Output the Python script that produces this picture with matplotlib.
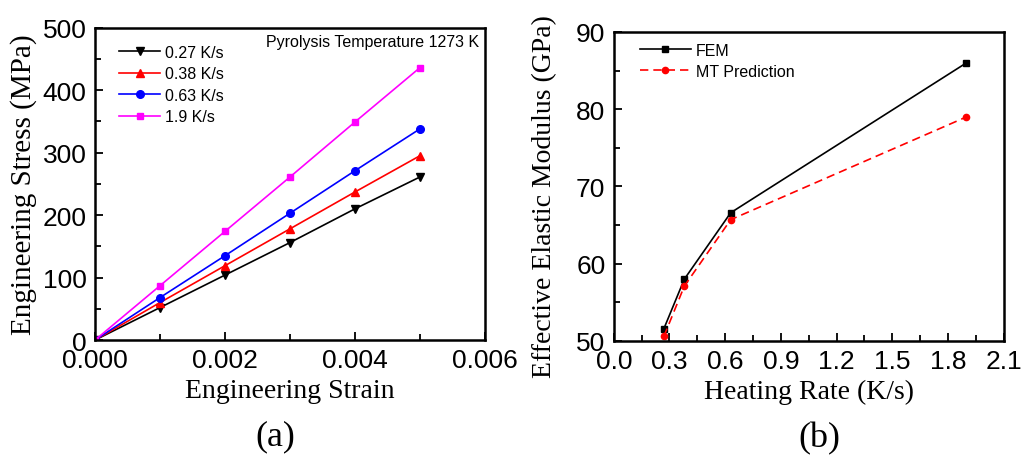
import numpy as np
import matplotlib.pyplot as plt
from matplotlib.ticker import MultipleLocator

# panel (a) data
strain = [0.0, 0.001, 0.002, 0.003, 0.004, 0.005]
stress_027 = [0, 52, 104, 156, 210, 261]
stress_038 = [0, 60, 119, 178, 237, 295]
stress_063 = [0, 68, 135, 203, 271, 338]
stress_19 = [0, 87, 174, 261, 349, 436]

# panel (b) data
rate = [0.27, 0.38, 0.63, 1.9]
fem = [51.6, 58.0, 66.6, 86.0]
mt = [50.6, 57.1, 65.7, 79.0]

sans = ['Liberation Sans', 'DejaVu Sans']
narrow = ['Liberation Sans Narrow', 'Liberation Sans', 'DejaVu Sans']
serif = ['Liberation Serif', 'DejaVu Serif']

fig = plt.figure(figsize=(10.23, 4.64), dpi=100)
ax1 = fig.add_axes([0.0929, 0.265, 0.381, 0.673])
ax2 = fig.add_axes([0.600, 0.263, 0.381, 0.666])

for ax in (ax1, ax2):
    for sp in ax.spines.values():
        sp.set_linewidth(1.8)
    ax.tick_params(direction='in', which='both', width=1.3, labelsize=19, pad=6)
    ax.tick_params(which='major', length=6)
    ax.tick_params(which='minor', length=4)

# (a)
ax1.plot(strain, stress_027, '-v', color='black', lw=1.2, ms=5.5, label='0.27 K/s')
ax1.plot(strain, stress_038, '-^', color='red', lw=1.2, ms=5.5, label='0.38 K/s')
ax1.plot(strain, stress_063, '-o', color='blue', lw=1.2, ms=5.5, label='0.63 K/s')
ax1.plot(strain, stress_19, '-s', color='magenta', lw=1.2, ms=5, label='1.9 K/s')
ax1.set_xlim(0, 0.006)
ax1.set_ylim(0, 500)
ax1.xaxis.set_minor_locator(MultipleLocator(0.001))
ax1.yaxis.set_minor_locator(MultipleLocator(50))
ax1.set_xticks([0, 0.002, 0.004, 0.006])
ax1.set_xticklabels(['0.000', '0.002', '0.004', '0.006'], family=narrow)
ax1.set_yticks([0, 100, 200, 300, 400, 500])
ax1.set_yticklabels(['0', '100', '200', '300', '400', '500'], family=narrow)
ax1.set_xlabel('Engineering Strain', family=serif, fontsize=20, labelpad=4)
ax1.set_ylabel('Engineering Stress (MPa)', family=serif, fontsize=21, labelpad=4)
ax1.text(0.985, 0.955, 'Pyrolysis Temperature 1273 K', transform=ax1.transAxes,
         ha='right', va='center', fontsize=11.5, family=sans)
ax1.legend(loc='upper left', bbox_to_anchor=(0.045, 0.965), frameon=False,
           prop={'family': sans, 'size': 11.5}, handlelength=2.6,
           handletextpad=0.3, labelspacing=0.4, borderaxespad=0)

# (b)
ax2.plot(rate, fem, '-s', color='black', lw=1.2, ms=4.5, label='FEM')
ax2.plot(rate, mt, '--o', color='red', lw=1.2, ms=4.5, dashes=(5, 3), label='MT Prediction')
ax2.set_xlim(0, 2.1)
ax2.set_ylim(50, 90)
ax2.xaxis.set_minor_locator(MultipleLocator(0.15))
ax2.yaxis.set_minor_locator(MultipleLocator(5))
ax2.set_xticks([0, 0.3, 0.6, 0.9, 1.2, 1.5, 1.8, 2.1])
ax2.set_xticklabels(['0.0', '0.3', '0.6', '0.9', '1.2', '1.5', '1.8', '2.1'], family=narrow)
ax2.set_yticks([50, 60, 70, 80, 90])
ax2.set_yticklabels(['50', '60', '70', '80', '90'], family=narrow)
ax2.set_xlabel('Heating Rate (K/s)', family=serif, fontsize=20, labelpad=4)
ax2.set_ylabel('Effective Elastic Modulus (GPa)', family=serif, fontsize=20, labelpad=4)
ax2.yaxis.set_label_coords(-0.145, 0.47)
ax2.legend(loc='upper left', bbox_to_anchor=(0.05, 0.985), frameon=False,
           prop={'family': sans, 'size': 11.5}, handlelength=3.2,
           handletextpad=0.3, labelspacing=0.35, borderaxespad=0)

fig.text(0.269, 0.058, '(a)', family=serif, fontsize=26, ha='center', va='center')
fig.text(0.801, 0.054, '(b)', family=serif, fontsize=26, ha='center', va='center')

fig.savefig('out.png', dpi=100)
